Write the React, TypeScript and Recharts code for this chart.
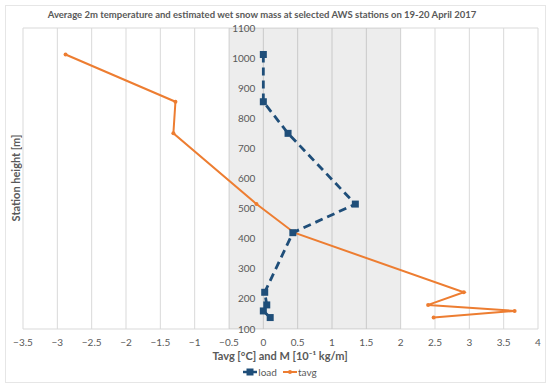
import React from "react";
import {
    ScatterChart,
    Scatter,
    XAxis,
    YAxis,
    CartesianGrid,
    ReferenceArea,
    ReferenceDot,
} from "recharts";

// Station heights [m] shared by both series
const heights = [1012, 855, 750, 515, 420, 222, 180, 160, 138];
// Estimated wet snow mass M [10^-1 kg/m]
const loadValues = [0.0, 0.0, 0.36, 1.34, 0.43, 0.02, 0.05, 0.0, 0.1];
// Average 2m temperature [°C]
const tavgValues = [-2.88, -1.28, -1.31, -0.1, 0.45, 2.92, 2.4, 3.66, 2.48];

const xTicks = [-3.5, -3, -2.5, -2, -1.5, -1, -0.5, 0, 0.5, 1, 1.5, 2, 2.5, 3, 3.5, 4];
const yTicks = [100, 200, 300, 400, 500, 600, 700, 800, 900, 1000, 1100];

const loadData = heights.map((h, i) => ({ x: loadValues[i], y: h }));
const tavgData = heights.map((h, i) => ({ x: tavgValues[i], y: h }));

const LOAD = "#1F4E79";
const TAVG = "#ED7D31";
const TEXT = "#595959";
const FONT = "Lato, 'Open Sans', sans-serif";

const formatX = (v: number) => (v < 0 ? "\u2212" + Math.abs(v) : String(v));

const SquareMark = (props: any) => (
    <rect x={props.cx - 3.5} y={props.cy - 3.5} width={7} height={7} fill={LOAD} />
);

const DotMark = (props: any) => <circle cx={props.cx} cy={props.cy} r={2} fill={TAVG} />;

export default function App() {
    return (
        <div
            style={{
                position: "absolute",
                left: 0,
                top: 0,
                width: 550,
                height: 388,
                background: "#fff",
                fontFamily: FONT,
                color: TEXT,
            }}
        >
            <div
                style={{
                    position: "absolute",
                    left: 5,
                    top: 5,
                    width: 539,
                    height: 376,
                    border: "1px solid #e6e6e6",
                }}
            />
            <div
                style={{
                    position: "absolute",
                    left: 0,
                    width: 524,
                    top: 9,
                    textAlign: "center",
                    fontSize: 9.5,
                    fontWeight: 700,
                }}
            >
                Average 2m temperature and estimated wet snow mass at selected AWS stations on 19-20 April 2017
            </div>
            <div
                style={{
                    position: "absolute",
                    left: 15,
                    top: 178,
                    transform: "translate(-50%, -50%) rotate(-90deg)",
                    whiteSpace: "nowrap",
                    fontSize: 11,
                    fontWeight: 700,
                }}
            >
                Station height [m]
            </div>
            <div
                style={{
                    position: "absolute",
                    left: 0,
                    width: 560,
                    top: 349,
                    textAlign: "center",
                    fontSize: 11,
                    fontWeight: 700,
                }}
            >
                Tavg [°C] and M [10⁻¹ kg/m]
            </div>
            <div
                style={{
                    position: "absolute",
                    left: 0,
                    width: 560,
                    top: 366,
                    display: "flex",
                    justifyContent: "center",
                    gap: 6,
                    fontSize: 10,
                }}
            >
                <span style={{ display: "flex", alignItems: "center" }}>
                    <svg width={14} height={8}>
                        <line x1={0} y1={4} x2={14} y2={4} stroke={LOAD} strokeWidth={2.5} />
                        <rect x={3.5} y={0.5} width={7} height={7} fill={LOAD} />
                    </svg>
                    <span style={{ marginLeft: 1 }}>load</span>
                </span>
                <span style={{ display: "flex", alignItems: "center" }}>
                    <svg width={14} height={8}>
                        <line x1={0} y1={4} x2={14} y2={4} stroke={TAVG} strokeWidth={2} />
                        <circle cx={7} cy={4} r={2} fill={TAVG} />
                    </svg>
                    <span style={{ marginLeft: 1 }}>tavg</span>
                </span>
            </div>
            <div style={{ position: "absolute", left: 0, top: 0 }}>
                <ScatterChart
                    width={550}
                    height={388}
                    margin={{ top: 28, right: 12, left: 23, bottom: 39 }}
                >
                    <CartesianGrid stroke="#d9d9d9" strokeWidth={1} />
                    <XAxis
                        type="number"
                        dataKey="x"
                        domain={[-3.5, 4]}
                        ticks={xTicks}
                        interval={0}
                        tickFormatter={formatX}
                        axisLine={false}
                        tickLine={false}
                        height={20}
                        dy={2}
                        tick={{ fill: TEXT, fontSize: 10, fontFamily: FONT }}
                    />
                    <YAxis
                        type="number"
                        dataKey="y"
                        domain={[100, 1100]}
                        ticks={yTicks}
                        interval={0}
                        width={0}
                        tick={false}
                        axisLine={false}
                        tickLine={false}
                    />
                    <ReferenceArea
                        x1={-0.5}
                        x2={2}
                        y1={100}
                        y2={1100}
                        fill="#000"
                        fillOpacity={0.07}
                        stroke="none"
                    />
                    {yTicks.map((t) => (
                        <ReferenceDot
                            key={t}
                            x={0}
                            y={t}
                            r={1}
                            fill="none"
                            stroke="none"
                            label={{
                                value: t,
                                position: "left",
                                offset: 7,
                                fill: TEXT,
                                fontSize: 10,
                                fontFamily: FONT,
                            }}
                        />
                    ))}
                    <Scatter
                        name="tavg"
                        data={tavgData}
                        line={{ stroke: TAVG, strokeWidth: 2 }}
                        shape={DotMark}
                        isAnimationActive={false}
                    />
                    <Scatter
                        name="load"
                        data={loadData}
                        line={{ stroke: LOAD, strokeWidth: 2.8, strokeDasharray: "8 5" }}
                        shape={SquareMark}
                        isAnimationActive={false}
                    />
                </ScatterChart>
            </div>
        </div>
    );
}
